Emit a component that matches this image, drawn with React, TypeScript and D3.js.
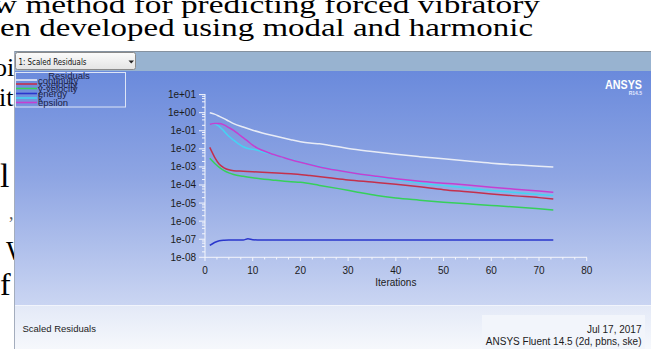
import React from 'react';
import * as d3 from 'd3';

const W = 651;
const H = 349;

// ---- data ----
const xTickValues = [0, 10, 20, 30, 40, 50, 60, 70, 80];
const yTickValues = [1e1, 1e0, 1e-1, 1e-2, 1e-3, 1e-4, 1e-5, 1e-6, 1e-7, 1e-8];
const yTickLabels = ['1e+01', '1e+00', '1e-01', '1e-02', '1e-03', '1e-04', '1e-05', '1e-06', '1e-07', '1e-08'];

const continuityIter = [1, 2, 3, 4, 5, 6, 8, 10, 12, 14, 16, 18, 20, 22, 24, 26, 30, 35, 40, 45, 50, 55, 60, 65, 70, 73];
const continuityRes = [1.0, 0.83, 0.63, 0.47, 0.34, 0.25, 0.16, 0.107, 0.076, 0.056, 0.042, 0.032, 0.025, 0.021, 0.019, 0.016, 0.0105, 0.0071, 0.005, 0.0037, 0.0028, 0.0021, 0.0016, 0.0013, 0.0011, 0.001];

const xVelIter = [1, 2, 3, 4, 5, 6, 8, 10, 14, 18, 22, 26, 30, 35, 40, 45, 50, 55, 60, 65, 70, 73];
const xVelRes = [1.2e-2, 3.5e-3, 1.4e-3, 8.9e-4, 6.9e-4, 6.2e-4, 5.8e-4, 5.4e-4, 4.8e-4, 4.2e-4, 3.3e-4, 2.5e-4, 1.9e-4, 1.45e-4, 1.1e-4, 7.9e-5, 5.5e-5, 4.2e-5, 3.2e-5, 2.5e-5, 2.0e-5, 1.7e-5];

const yVelIter = [1, 2, 3, 4, 5, 6, 8, 10, 14, 18, 20, 24, 28, 32, 36, 40, 45, 50, 55, 60, 65, 70, 73];
const yVelRes = [3.0e-3, 1.6e-3, 9.5e-4, 6.3e-4, 4.7e-4, 3.8e-4, 3.0e-4, 2.5e-4, 1.9e-4, 1.5e-4, 1.4e-4, 9.5e-5, 6.3e-5, 4.0e-5, 2.6e-5, 1.9e-5, 1.45e-5, 1.12e-5, 9.1e-6, 7.4e-6, 6.0e-6, 4.8e-6, 4.2e-6];

const energyIter = [1, 2, 3, 4, 5, 8, 9, 10, 11, 20, 40, 60, 73];
const energyRes = [4.5e-8, 6.6e-8, 8.3e-8, 8.9e-8, 9.1e-8, 9.1e-8, 1.05e-7, 9.3e-8, 9.1e-8, 9.1e-8, 9.1e-8, 9.1e-8, 9.1e-8];

const kIter = [1, 2, 3, 4, 5, 6, 7, 8, 9, 10, 12, 14, 16, 18, 20, 24, 28, 32, 36, 40, 45, 50, 55, 60, 65, 70, 73];
const kRes = [0.23, 0.24, 0.17, 0.095, 0.05, 0.03, 0.019, 0.013, 0.0105, 0.0095, 0.0069, 0.005, 0.0036, 0.0026, 0.0019, 0.00107, 6.5e-4, 4.2e-4, 2.8e-4, 2.0e-4, 1.3e-4, 9.3e-5, 6.8e-5, 5.0e-5, 3.8e-5, 3.0e-5, 2.6e-5];

const epsIter = [1, 2, 3, 4, 5, 6, 7, 8, 9, 10, 11, 12, 14, 16, 18, 20, 24, 28, 32, 36, 40, 45, 50, 55, 60, 65, 70, 73];
const epsRes = [0.23, 0.25, 0.25, 0.21, 0.15, 0.105, 0.066, 0.042, 0.026, 0.016, 0.011, 0.0083, 0.0052, 0.0036, 0.0025, 0.0018, 0.001, 6.3e-4, 4.2e-4, 3.0e-4, 2.2e-4, 1.6e-4, 1.26e-4, 1.0e-4, 7.6e-5, 5.9e-5, 4.7e-5, 4.0e-5];

const seriesNames = ['continuity', 'x-velocity', 'y-velocity', 'energy', 'k', 'epsilon'];
const seriesColors = ['#e8ecf6', '#c4304c', '#36d05a', '#2a36cc', '#44d4f2', '#c63fd0'];
const seriesIters = [continuityIter, xVelIter, yVelIter, energyIter, kIter, epsIter];
const seriesRes = [continuityRes, xVelRes, yVelRes, energyRes, kRes, epsRes];

const docLines = ['w method for predicting forced vibratory', 'en developed using modal and harmonic'];

export default function App() {
  const x = d3.scaleLinear().domain([0, 80]).range([205, 586.7]);
  const y = d3.scaleLog().domain([1e-8, 1e1]).range([257.3, 94.6]);

  const line = d3
    .line<[number, number]>()
    .x((d) => x(d[0]))
    .y((d) => y(d[1]))
    .curve(d3.curveMonotoneX);

  const minorY: number[] = [];
  for (let e = -8; e < 1; e++) {
    for (const m of [2, 4, 6, 8]) minorY.push(m * Math.pow(10, e));
  }
  const minorX = d3.range(0, 80.01, 2.5).filter((v) => v % 10 !== 0);

  const sans = "'Liberation Sans', Arial, sans-serif";
  const serif = "'Liberation Serif', 'Times New Roman', serif";

  const legendY = [80, 84, 88.5, 93.5, 98, 102.5];

  return (
    <svg width={W} height={H} style={{ position: 'absolute', left: 0, top: 0, background: '#fff' }} fontFamily={sans}>
      <defs>
        <linearGradient id="plotBg" x1="0" y1="0" x2="0" y2="1">
          <stop offset="0" stopColor="#6a8adc" />
          <stop offset="0.45" stopColor="#8ea5e3" />
          <stop offset="1" stopColor="#cad5f2" />
        </linearGradient>
        <linearGradient id="footBg" x1="0" y1="0" x2="0" y2="1">
          <stop offset="0" stopColor="#e3e9f7" />
          <stop offset="1" stopColor="#f6f8fc" />
        </linearGradient>
        <linearGradient id="ddBg" x1="0" y1="0" x2="0" y2="1">
          <stop offset="0" stopColor="#fbfbfb" />
          <stop offset="1" stopColor="#e4e4e4" />
        </linearGradient>
      </defs>

      {/* document text behind the window */}
      <text x={-7} y={12.5} fontFamily={serif} fontSize={25} fill="#000" textLength={547} lengthAdjust="spacingAndGlyphs">
        {docLines[0]}
      </text>
      <text x={0} y={36} fontFamily={serif} fontSize={25} fill="#000" textLength={533} lengthAdjust="spacingAndGlyphs">
        {docLines[1]}
      </text>
      <text x={-6} y={76} fontFamily={serif} fontSize={26} fill="#000">oi</text>
      <text x={-1} y={106} fontFamily={serif} fontSize={26} fill="#000">it</text>
      <text x={0} y={187} fontFamily={serif} fontSize={34} fill="#000">l</text>
      <text x={9} y={219} fontFamily={serif} fontSize={18} fill="#555">,</text>
      <text x={6} y={260} fontFamily={serif} fontSize={28} fill="#000">W</text>
      <text x={0} y={295} fontFamily={serif} fontSize={32} fill="#000">f</text>

      {/* window */}
      <rect x={14} y={51} width={W - 14} height={20} fill="#98b3d0" />
      <line x1={14} x2={W} y1={51.5} y2={51.5} stroke="#8592a0" />
      <rect x={14} y={71} width={W - 14} height={234} fill="url(#plotBg)" />
      <rect x={14} y={305} width={W - 14} height={44} fill="url(#footBg)" />
      <line x1={14} x2={W} y1={305.5} y2={305.5} stroke="#f2f5fc" />
      <line x1={14.5} x2={14.5} y1={51} y2={H} stroke="#a4adbd" />

      {/* dropdown */}
      <rect x={15.5} y={52.5} width={120} height={17} rx={2} fill="url(#ddBg)" stroke="#8a8a8a" />
      <text x={18.5} y={64.5} fontSize={8.5} fill="#111" fontFamily="'DejaVu Sans Condensed', 'Liberation Sans Narrow', 'Liberation Sans', sans-serif" textLength={68} lengthAdjust="spacingAndGlyphs">
        1: Scaled Residuals
      </text>
      <path d="M128.5,60.5 L134,60.5 L131.25,63.5 Z" fill="#222" />

      {/* ANSYS logo */}
      <text x={605} y={88.5} fontSize={13} fontWeight="bold" fill="#ffffff" textLength={37} lengthAdjust="spacingAndGlyphs">
        ANSYS
      </text>
      <text x={642} y={95} fontSize={5} fontWeight="bold" fill="#e4eaff" textAnchor="end">R14.5</text>

      {/* legend */}
      <rect x={15.5} y={72.5} width={110} height={34.5} fill="none" stroke="#dde5f6" />
      <text x={69} y={78.5} fontSize={9.5} fill="#1c2244" textAnchor="middle">Residuals</text>
      {seriesNames.map((n, i) => (
        <g key={n}>
          <line x1={16} x2={37} y1={legendY[i]} y2={legendY[i]} stroke={seriesColors[i]} strokeWidth={1.6} />
          <text x={38} y={legendY[i] + 3.5} fontSize={9.5} fill="#1c2244">{n}</text>
        </g>
      ))}

      {/* axes */}
      <line x1={205} x2={205} y1={94} y2={257.3} stroke="#f4f6fc" />
      <line x1={205} x2={587} y1={257.3} y2={257.3} stroke="#f4f6fc" />
      {minorY.map((v, i) => (
        <line key={'my' + i} x1={202} x2={205} y1={y(v)} y2={y(v)} stroke="#f4f6fc" />
      ))}
      {yTickValues.map((v, i) => (
        <g key={'y' + i}>
          <line x1={199} x2={205} y1={y(v)} y2={y(v)} stroke="#f4f6fc" />
          <text x={196} y={y(v)} dy="0.35em" fontSize={10} fill="#1b1b1b" textAnchor="end">
            {yTickLabels[i]}
          </text>
        </g>
      ))}
      {minorX.map((v, i) => (
        <line key={'mx' + i} x1={x(v)} x2={x(v)} y1={257.3} y2={259.5} stroke="#f4f6fc" />
      ))}
      {xTickValues.map((v) => (
        <g key={'x' + v}>
          <line x1={x(v)} x2={x(v)} y1={257.3} y2={261} stroke="#f4f6fc" />
          <text x={x(v)} y={273.5} fontSize={10} fill="#1b1b1b" textAnchor="middle">{v}</text>
        </g>
      ))}
      <text x={x(40)} y={285.5} fontSize={10} fill="#1b1b1b" textAnchor="middle">Iterations</text>

      {/* residual curves */}
      {seriesNames.map((n, i) => (
        <path
          key={'s' + n}
          d={line(seriesIters[i].map((it, j) => [it, seriesRes[i][j]] as [number, number])) || ''}
          fill="none"
          stroke={seriesColors[i]}
          strokeWidth={1.5}
        />
      ))}

      {/* footer */}
      <text x={22.5} y={332} fontSize={9.5} fill="#1b1b1b">Scaled Residuals</text>
      <rect x={482} y={315} width={163} height={34} fill="#f2f5fb" />
      <text x={641.5} y={332.5} fontSize={10} fill="#1b1b1b" textAnchor="end">Jul 17, 2017</text>
      <text x={641.5} y={345} fontSize={10} fill="#1b1b1b" textAnchor="end">ANSYS Fluent 14.5 (2d, pbns, ske)</text>
    </svg>
  );
}
